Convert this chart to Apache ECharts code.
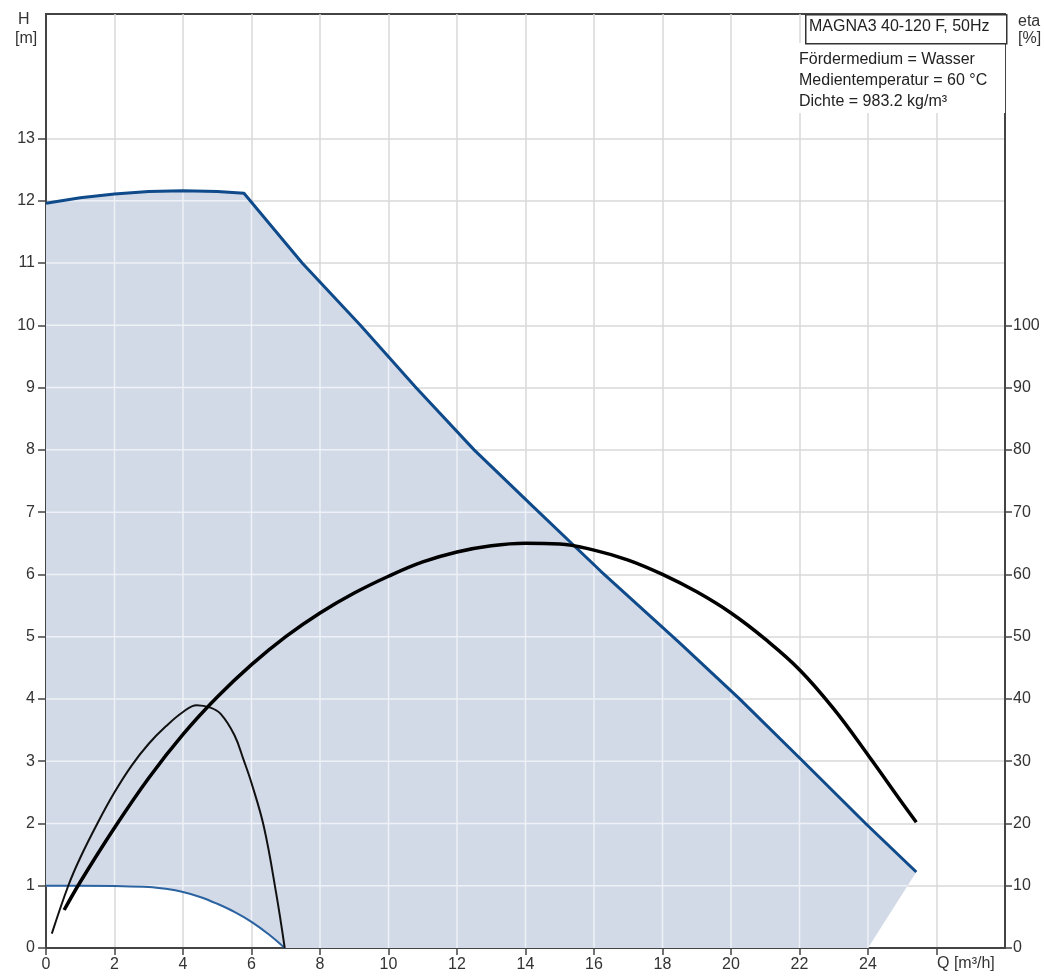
<!DOCTYPE html>
<html><head><meta charset="utf-8">
<script src="https://cdn.jsdelivr.net/npm/echarts@6/dist/echarts.min.js"></script>
<style>html,body{margin:0;padding:0;background:#fff}#c{width:1044px;height:976px}</style>
</head><body><div id="c"></div>
<script>
// Max-speed H curve (Q in m³/h, H in m)
const qMax = [0,1,2,3,4,5,5.78,7.48,9.18,10.8,12.5,14.2,16.2,18.5,20.25,22.1,23.93,25.41];
const hMax = [11.96,12.05,12.11,12.15,12.16,12.15,12.12,11,10,9,8,7.1,6.05,4.9,4,3,2,1.22];
// Min-speed H curve
const qMin = [0,1,2,3,3.5,4,4.5,5,5.5,6,6.5,6.97];
const hMin = [1.0,1.0,0.995,0.98,0.95,0.9,0.82,0.71,0.58,0.42,0.22,0];
// Efficiency at max curve (eta %)
const qEtaMax = [0.53,1,2,3,4,5,6,7,8,9,10,11,12,13,14,15,16,17,18,19,20,21,22,23,24,25,25.41];
const etaMax = [6.1,10.6,19.3,27.3,34.3,40.3,45.5,50,53.8,57,59.7,62,63.6,64.6,65,64.9,63.9,62.3,60,57.2,53.8,49.6,44.7,38.4,31,23.3,20.2];
// Efficiency at min curve (eta %)
const qEtaMin = [0.17,0.65,1,1.5,2,2.5,3,3.5,4,4.4,4.8,5.1,5.5,5.77,6,6.36,6.72,6.97];
const etaMin = [2.3,10,14.5,20,25,29.3,32.8,35.6,37.9,39,38.6,37.6,34.2,30.2,26.5,19.5,8.8,0];
// Operating-area lower right corner (Q at H=0)
const fillEdgeQ = 24;
// Axis ticks/labels
const xTickVals = [0,2,4,6,8,10,12,14,16,18,20,22,24,26];
const xLabelVals = [0,2,4,6,8,10,12,14,16,18,20,22,24];
const hLabelVals = [0,1,2,3,4,5,6,7,8,9,10,11,12,13];
const etaLabelVals = [0,10,20,30,40,50,60,70,80,90,100];
const titleText = 'MAGNA3 40-120 F, 50Hz';
const infoLines = ['Fördermedium = Wasser','Medientemperatur = 60 °C','Dichte = 983.2 kg/m³'];

const zip = (a,b)=>a.map((v,i)=>[v,b[i]]);
const maxPts = zip(qMax,hMax), minPts = zip(qMin,hMin);
const poly = maxPts.concat([[fillEdgeQ,0]]).concat(minPts.slice().reverse());

function cuts(c, horiz){
  const out=[]; const ia=horiz?1:0, ja=horiz?0:1;
  for(let i=0;i<poly.length;i++){
    const a=poly[i], b=poly[(i+1)%poly.length];
    const va=a[ia], vb=b[ia];
    if((va<=c && vb>c)||(vb<=c && va>c)){
      const t=(c-va)/(vb-va); out.push(a[ja]+t*(b[ja]-a[ja]));
    }
  }
  return out.sort((p,q)=>p-q);
}

const FONT = 'Liberation Sans, Arial, sans-serif';
const chart = echarts.init(document.getElementById('c'), null, {renderer:'canvas'});
const gridW = {color:'#d9d9d9', width:1.5};
const axisDark = {color:'#444', width:2};
const tickStyle = {color:'#444', width:1.5};

chart.setOption({
  animation:false,
  backgroundColor:'#fff',
  grid:{left:46, right:39, top:14, bottom:28, show:true, borderColor:'#444', borderWidth:2, backgroundColor:'transparent'},
  xAxis:{type:'value', min:0, max:28, interval:2,
    axisLine:{show:true, lineStyle:axisDark, onZero:false},
    axisTick:{show:true, length:7, lineStyle:tickStyle, customValues:xTickVals},
    axisLabel:{color:'#333', fontSize:16, fontFamily:FONT, margin:9, customValues:xLabelVals},
    splitLine:{show:true, lineStyle:gridW}},
  yAxis:[
    {type:'value', min:0, max:15, interval:1, position:'left',
     axisLine:{show:true, lineStyle:axisDark, onZero:false},
     axisTick:{show:true, length:8, lineStyle:tickStyle, customValues:hLabelVals},
     axisLabel:{color:'#333', fontSize:16, fontFamily:FONT, margin:11, customValues:hLabelVals},
     splitLine:{show:true, lineStyle:gridW}},
    {type:'value', min:0, max:150, interval:10, position:'right',
     axisLine:{show:true, lineStyle:axisDark, onZero:false},
     axisTick:{show:true, length:7, lineStyle:tickStyle, customValues:etaLabelVals},
     axisLabel:{color:'#333', fontSize:16, fontFamily:FONT, margin:8, customValues:etaLabelVals},
     splitLine:{show:false}}
  ],
  series:[
    {type:'custom', coordinateSystem:'cartesian2d', z:1, silent:true, clip:true,
     data:[[0,0]],
     renderItem:function(params, api){
       const children=[];
       children.push({type:'polygon', shape:{points:poly.map(p=>api.coord(p))},
         style:{fill:'#d2dae8', stroke:null}});
       const white={stroke:'#eef1f6', lineWidth:1.5};
       for(let x=2;x<=26;x+=2){
         const c=cuts(x,false);
         for(let k=0;k+1<c.length;k+=2){
           const p1=api.coord([x,c[k]]), p2=api.coord([x,c[k+1]]);
           children.push({type:'line', shape:{x1:p1[0],y1:p1[1],x2:p2[0],y2:p2[1]}, style:white});
         }
       }
       for(let y=1;y<=14;y++){
         const c=cuts(y,true);
         for(let k=0;k+1<c.length;k+=2){
           const p1=api.coord([c[k],y]), p2=api.coord([c[k+1],y]);
           children.push({type:'line', shape:{x1:p1[0],y1:p1[1],x2:p2[0],y2:p2[1]}, style:white});
         }
       }
       return {type:'group', children};
     }},
    {type:'line', data:minPts, yAxisIndex:0, symbol:'none', smooth:0.4, z:3,
     lineStyle:{color:'#2b62a0', width:2}},
    {type:'line', data:maxPts, yAxisIndex:0, symbol:'none', smooth:false, z:4,
     lineStyle:{color:'#0f4a8a', width:3}},
    {type:'line', data:zip(qEtaMin,etaMin), yAxisIndex:1, symbol:'none', smooth:0.4, z:5,
     lineStyle:{color:'#111', width:2}},
    {type:'line', data:zip(qEtaMax,etaMax), yAxisIndex:1, symbol:'none', smooth:0.4, z:5,
     lineStyle:{color:'#000', width:3.5}}
  ],
  graphic:[
    {type:'rect', left:797, top:43, shape:{width:208, height:70}, style:{fill:'#fff'}, z:10},
    {type:'rect', left:805, top:14, shape:{width:201, height:29}, style:{fill:'#fff', stroke:'#333', lineWidth:1.5}, z:11},
    {type:'text', left:809, top:19, style:{text:titleText, fill:'#222', font:'16px '+FONT}, z:12},
    {type:'text', left:799, top:49, style:{text:infoLines.join('\n'), fill:'#222', font:'16px '+FONT, lineHeight:21}, z:12},
    {type:'text', left:18, top:12, style:{text:'H', fill:'#333', font:'16px '+FONT}, z:12},
    {type:'text', left:15, top:31, style:{text:'[m]', fill:'#333', font:'16px '+FONT}, z:12},
    {type:'text', left:1018, top:14, style:{text:'eta', fill:'#333', font:'16px '+FONT}, z:12},
    {type:'text', left:1018, top:31, style:{text:'[%]', fill:'#333', font:'16px '+FONT}, z:12},
    {type:'text', left:937, top:956, style:{text:'Q [m³/h]', fill:'#333', font:'16px '+FONT}, z:12}
  ]
});
</script>
</body></html>
